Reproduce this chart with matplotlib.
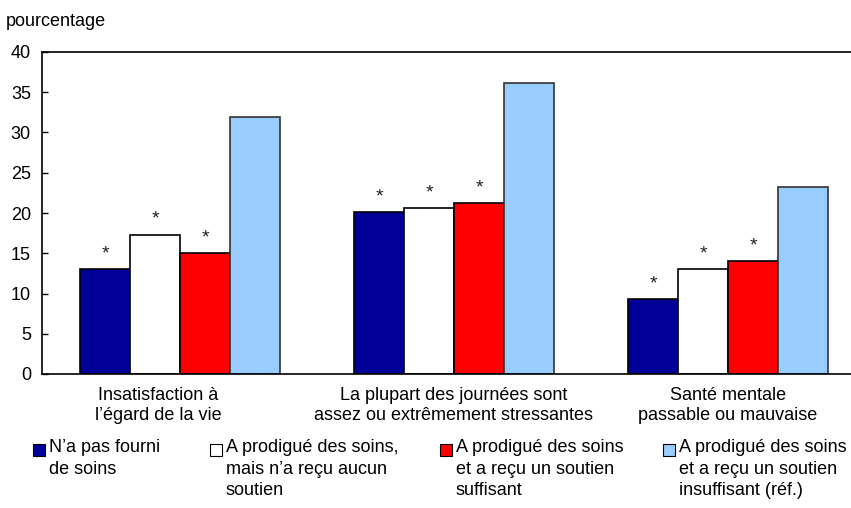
import matplotlib
matplotlib.use("Agg")
import matplotlib.pyplot as plt
from matplotlib.patches import Rectangle
import numpy as np

plt.rcParams['font.family'] = ['Liberation Sans', 'DejaVu Sans']

categories = ["Insatisfaction à\nl’égard de la vie",
              "La plupart des journées sont\nassez ou extrêmement stressantes",
              "Santé mentale\npassable ou mauvaise"]
series_names = ["N’a pas fourni\nde soins",
                "A prodigué des soins,\nmais n’a reçu aucun\nsoutien",
                "A prodigué des soins\net a reçu un soutien\nsuffisant",
                "A prodigué des soins\net a reçu un soutien\ninsuffisant (réf.)"]
values = [
    [13.0, 20.1, 9.3],
    [17.3, 20.6, 13.0],
    [15.0, 21.2, 14.0],
    [31.9, 36.2, 23.2],
]
significant = [
    [True, True, True],
    [True, True, True],
    [True, True, True],
    [False, False, False],
]
colors = ["#000099", "#FFFFFF", "#FF0000", "#99CCFF"]
edgecolors = ["#000000", "#000000", "#000000", "#333333"]
yticks = [0, 5, 10, 15, 20, 25, 30, 35, 40]

fig = plt.figure(figsize=(8.51, 5.08), dpi=100)
ax = fig.add_axes([42/851, 1-374/508, (851-42)/851, (374-52)/508])

width = 50/274
x = np.arange(len(categories))
for i, (vals, c, ec) in enumerate(zip(values, colors, edgecolors)):
    pos = x + (i - 1.5) * width
    ax.bar(pos, vals, width=width, color=c, edgecolor=ec, linewidth=1.2, zorder=2)
    for p, v, s in zip(pos, vals, significant[i]):
        if s:
            ax.annotate("*", (p, v), xytext=(0, 5), textcoords="offset points",
                        ha="center", va="bottom", fontsize=14, color="#222222")

ax.set_xlim(-138/274, 2 + 123/274)
ax.set_ylim(0, 40)
ax.set_yticks(yticks)
# label positions (layout offsets only)
label_offsets = np.array([-22/274, 0.0, 0.0])
ax.set_xticks(x + label_offsets)
ax.set_xticklabels(categories, fontsize=13, linespacing=1.3)
ax.tick_params(axis='x', length=0, pad=9)
ax.tick_params(axis='y', direction='in', length=4, labelsize=13, pad=8, width=1)
ax.spines['right'].set_visible(False)
for side in ['top', 'left', 'bottom']:
    ax.spines[side].set_linewidth(1.2)

fig.text(6/851, 1-21/508, "pourcentage", fontsize=13, va="center", ha="left")

# legend
sq_x = [33, 210, 440, 663]
for name, c, sx in zip(series_names, colors, sq_x):
    fig.patches.append(Rectangle((sx/851, 1-456/508), 12/851, 12/508,
                                 transform=fig.transFigure, facecolor=c,
                                 edgecolor="#000000", linewidth=0.8))
    fig.text((sx+16)/851, 1-439/508, name, fontsize=13, va="top", ha="left",
             linespacing=1.35)

fig.savefig("out.png", dpi=100)
